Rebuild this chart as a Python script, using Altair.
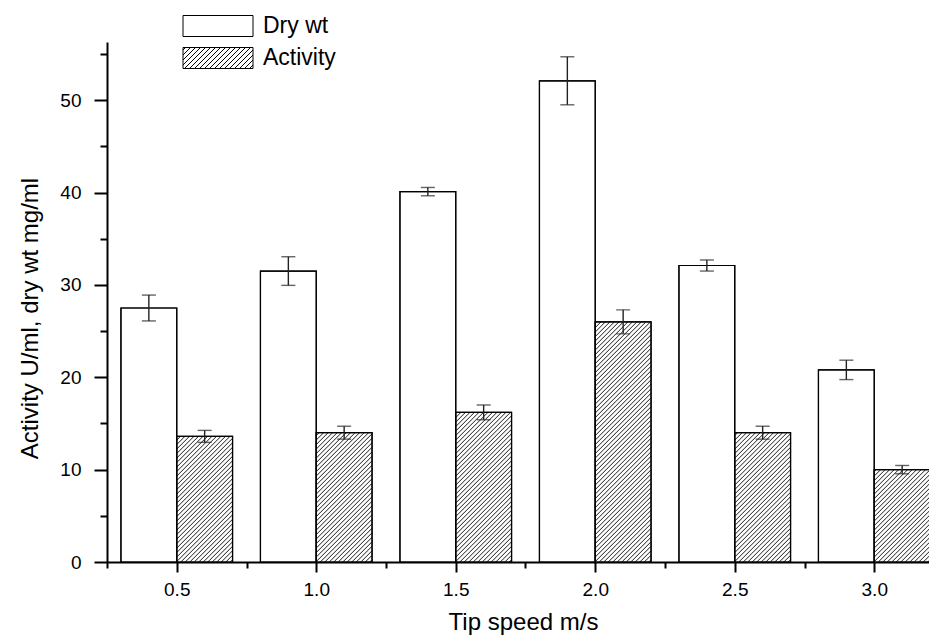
import altair as alt
import pandas as pd

# ---- data ----
speeds = [0.5, 1.0, 1.5, 2.0, 2.5, 3.0]
dry_wt = [27.5, 31.5, 40.1, 52.1, 32.1, 20.8]
dry_err = [1.4, 1.55, 0.45, 2.6, 0.6, 1.05]
activity = [13.6, 14.0, 16.2, 26.0, 14.0, 10.0]
act_err = [0.65, 0.7, 0.8, 1.3, 0.7, 0.45]
series_names = ["Dry wt", "Activity"]
x_tick_values = [0.25, 0.5, 0.75, 1.0, 1.25, 1.5, 1.75, 2.0, 2.25, 2.5, 2.75, 3.0]
y_tick_values = [0, 5, 10, 15, 20, 25, 30, 35, 40, 45, 50, 55]

# ---- layout / style ----
PLOT_W, PLOT_H = 822, 520
X_DOMAIN = [0.25, 0.25 + PLOT_W / 279.0]
Y_MAX = 56.3
BAR_W = 0.2
HATCH_PX = 4.5
FONT = "Liberation Sans"

kx = PLOT_W / (X_DOMAIN[1] - X_DOMAIN[0])
ky = PLOT_H / Y_MAX

rows = []
for s, v, e in zip(speeds, dry_wt, dry_err):
    rows.append(dict(series="Dry wt", speed=s, value=v, lo=v - e, hi=v + e,
                     x0=s - BAR_W, x1=s, xc=s - BAR_W / 2))
for s, v, e in zip(speeds, activity, act_err):
    rows.append(dict(series="Activity", speed=s, value=v, lo=v - e, hi=v + e,
                     x0=s, x1=s + BAR_W, xc=s + BAR_W / 2))
bars = pd.DataFrame(rows)

# hatch segments for Activity bars (derived from the bar values)
hatch = []
for s, v in zip(speeds, activity):
    W = BAR_W * kx
    H = v * ky
    c = -W + HATCH_PX / 2
    while c < H:
        u0 = max(0.0, -c)
        u1 = min(W, H - c)
        if u1 > u0:
            hatch.append(dict(hx=s + u0 / kx, hy=(u0 + c) / ky,
                              hx2=s + u1 / kx, hy2=(u1 + c) / ky))
        c += HATCH_PX
hatch = pd.DataFrame(hatch)

caps = pd.concat([bars[["xc"]].assign(yc=bars["lo"]), bars[["xc"]].assign(yc=bars["hi"])])

# legend symbol paths
hw, hh = 3.5, 1.05
box = f"M{-hw},{-hh}H{hw}V{hh}H{-hw}Z"
lines = []
c = -hw - 2 * hh + 0.25
while c < hw:
    t0 = max(0.0, -hw - c)
    t1 = min(2 * hh, hw - c)
    if t1 > t0:
        lines.append(f"M{c + t0:.3f},{hh - t0:.3f}L{c + t1:.3f},{hh - t1:.3f}")
    c += 0.5
path_dry = box
path_act = box + "".join(lines)

xscale = alt.Scale(domain=X_DOMAIN, nice=False, zero=False)
yscale = alt.Scale(domain=[0, Y_MAX], nice=False)

legend_layer = alt.Chart(pd.DataFrame({"series": series_names})).mark_point(
    filled=True, fill="white", stroke="black", strokeWidth=1, opacity=0
).encode(
    x=alt.value(0), y=alt.value(0),
    shape=alt.Shape("series:N",
                    scale=alt.Scale(domain=series_names, range=[path_dry, path_act]),
                    legend=alt.Legend(title=None, orient="none", legendX=99.5, legendY=-27.5,
                                      direction="vertical", symbolSize=400,
                                      symbolStrokeWidth=1, symbolOpacity=1,
                                      labelFontSize=23, labelFont=FONT, labelColor="black",
                                      labelOffset=33.5, rowPadding=7, padding=0,
                                      labelLimit=0))
)

major_x = "abs(datum.value * 2 - round(datum.value * 2)) < 0.000001"
bar_layer = alt.Chart(bars).mark_rect(fill="white", stroke="black", strokeWidth=1.2).encode(
    x=alt.X("x0:Q", scale=xscale,
            axis=alt.Axis(values=x_tick_values,
                          tickSize={"condition": {"test": major_x, "value": 10}, "value": 6},
                          labelExpr=f"{major_x} ? format(datum.value, '.1f') : ''",
                          labelPadding=8, labelFontSize=19,
                          title="Tip speed m/s", titleX=416, titleY=60,
                          titleBaseline="middle", titleAlign="center", titleFontSize=24)),
    x2="x1:Q",
    y=alt.Y("value:Q", scale=yscale,
            axis=alt.Axis(values=y_tick_values,
                          tickSize={"condition": {"test": "datum.value % 10 === 0", "value": 13}, "value": 7},
                          labelExpr="datum.value % 10 === 0 ? datum.label : ''",
                          labelPadding=13, labelFontSize=19,
                          title="Activity U/ml, dry wt mg/ml", titleX=-77, titleY=276,
                          titleAngle=270, titleBaseline="middle", titleAlign="center",
                          titleFontSize=24)),
    y2=alt.datum(0),
)

hatch_layer = alt.Chart(hatch).mark_rule(color="black", strokeWidth=0.9).encode(
    x=alt.X("hx:Q", scale=xscale), x2="hx2:Q",
    y=alt.Y("hy:Q", scale=yscale), y2="hy2:Q",
)

outline_layer = alt.Chart(bars).mark_rect(fillOpacity=0, stroke="black", strokeWidth=1.2).encode(
    x=alt.X("x0:Q", scale=xscale), x2="x1:Q",
    y=alt.Y("value:Q", scale=yscale), y2=alt.datum(0),
)

err_layer = alt.Chart(bars).mark_rule(color="#222222", strokeWidth=1.4).encode(
    x=alt.X("xc:Q", scale=xscale),
    y=alt.Y("lo:Q", scale=yscale), y2="hi:Q",
)

cap_layer = alt.Chart(caps).mark_tick(orient="horizontal", size=14, thickness=1.4, color="#222222").encode(
    x=alt.X("xc:Q", scale=xscale),
    y=alt.Y("yc:Q", scale=yscale),
)

chart = alt.layer(
    legend_layer, bar_layer, hatch_layer, outline_layer, err_layer, cap_layer
).properties(
    width=PLOT_W, height=PLOT_H,
    autosize=alt.AutoSizeParams(type="none"),
    padding={"left": 99, "top": 34, "right": 0, "bottom": 78},
    background="white",
).configure_view(stroke=None).configure_axis(
    grid=False, domainColor="black", domainWidth=2, tickColor="black", tickWidth=2,
    labelFont=FONT, labelColor="black", titleFont=FONT, titleColor="black",
    titleFontWeight="normal",
)

chart.save("out.html", embed_options={"renderer": "svg", "actions": False})
